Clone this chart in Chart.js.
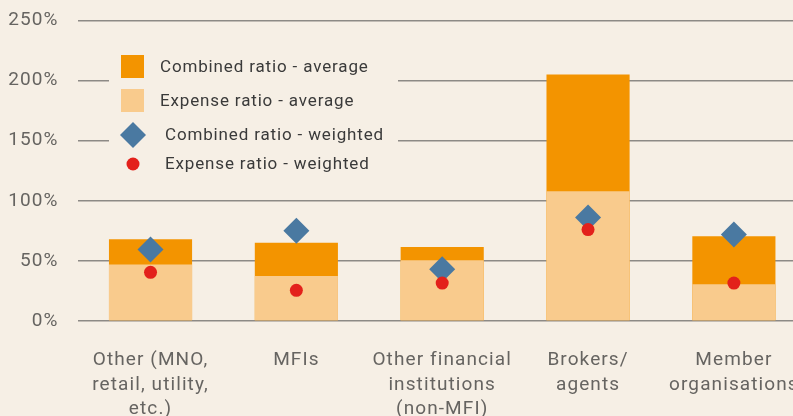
<!DOCTYPE html>
<html>
<head>
<meta charset="utf-8">
<script src="https://cdn.jsdelivr.net/npm/chart.js@4.4.0/dist/chart.umd.min.js"></script>
<style>
html, body { margin: 0; padding: 0; background: #f6efe5; overflow: hidden; }
#wrap { width: 827px; height: 426px; margin-top: -10px; }
</style>
</head>
<body>
<div id="wrap"><canvas id="myChart" width="827" height="426"></canvas></div>
<script>
// values (percent)
const categories = [
    ["Other (MNO,", "retail, utility,", "etc.)"],
    "MFIs",
    ["Other financial", "institutions", "(non-MFI)"],
    ["Brokers/", "agents"],
    ["Member", "organisations"]
]
const combinedAverage = [68, 65, 61.5, 205, 70.5]
const expenseAverage = [47, 37.5, 50.5, 108, 30.5]
const combinedWeighted = [59.5, 75, 43, 86, 72]
const expenseWeighted = [40.5, 25.5, 31.5, 76, 31.5]
const yMin = 0
const yMax = 250
const yStep = 50

const BG = '#f6efe5'
const FONT = 'Roboto'
const SPACING = '1.1px'
// canvas is shifted up by 10px in the page, legend coords are page coords
const SHIFT = 10

// letter spacing to get closer to the wide DIN look of the original
const spacingPlugin = {
    id: 'spacing',
    beforeUpdate(chart) { chart.ctx.letterSpacing = SPACING },
    beforeDraw(chart) { chart.ctx.letterSpacing = SPACING }
}

// legend sits inside the plot, over the gridlines
const legendPlugin = {
    id: 'insideLegend',
    beforeDatasetsDraw(chart)
    {
        const ctx = chart.ctx
        const ds = chart.data.datasets
        ctx.save()
        ctx.translate(0, SHIFT)
        ctx.fillStyle = BG
        ctx.fillRect(109, 40, 289, 145)

        ctx.font = '17px ' + FONT
        ctx.letterSpacing = '0.85px'
        ctx.textBaseline = 'middle'
        ctx.textAlign = 'left'

        // combined average
        ctx.fillStyle = ds[1].backgroundColor
        ctx.fillRect(121, 55, 23, 23)
        ctx.fillStyle = '#3a3a3a'
        ctx.fillText(ds[1].label, 160, 68)

        // expense average
        ctx.fillStyle = ds[2].backgroundColor
        ctx.fillRect(121, 89, 23, 23)
        ctx.fillStyle = '#3a3a3a'
        ctx.fillText(ds[2].label, 160, 102)

        // combined weighted
        ctx.fillStyle = ds[0].backgroundColor
        ctx.beginPath()
        ctx.moveTo(133, 122)
        ctx.lineTo(146, 135)
        ctx.lineTo(133, 148)
        ctx.lineTo(120, 135)
        ctx.closePath()
        ctx.fill()
        ctx.fillStyle = '#3a3a3a'
        ctx.fillText(ds[0].label, 165, 136)

        // expense weighted
        ctx.fillStyle = ds[3].backgroundColor
        ctx.beginPath()
        ctx.arc(133, 164, 6.5, 0, Math.PI * 2)
        ctx.fill()
        ctx.fillStyle = '#3a3a3a'
        ctx.fillText(ds[3].label, 165, 165)
        ctx.restore()
    }
}

const config = {
    data: {
        labels: categories,
        datasets: [
            {
                type: 'line',
                label: 'Combined ratio - weighted',
                data: combinedWeighted,
                showLine: false,
                pointStyle: 'rectRot',
                pointRadius: 13,
                pointBorderWidth: 0,
                backgroundColor: '#4a79a1',
                borderColor: '#4a79a1',
                order: 1
            },
            {
                type: 'bar',
                label: 'Combined ratio - average',
                data: combinedAverage,
                backgroundColor: '#f39400',
                grouped: false,
                barPercentage: 0.57,
                categoryPercentage: 1,
                order: 4
            },
            {
                type: 'bar',
                label: 'Expense ratio - average',
                data: expenseAverage,
                backgroundColor: '#f9cb8d',
                grouped: false,
                barPercentage: 0.57,
                categoryPercentage: 1,
                order: 3
            },
            {
                type: 'line',
                label: 'Expense ratio - weighted',
                data: expenseWeighted,
                showLine: false,
                pointStyle: 'circle',
                pointRadius: 6.5,
                pointBorderWidth: 0,
                backgroundColor: '#e3211b',
                borderColor: '#e3211b',
                order: 0
            }
        ]
    },
    options: {
        responsive: false,
        animation: false,
        layout: { padding: { top: 9, left: 0, right: 0, bottom: 0 } },
        plugins: {
            legend: { display: false },
            tooltip: { enabled: false }
        },
        scales: {
            x: {
                grid: { display: false, drawTicks: false },
                border: { display: false },
                ticks: {
                    color: '#666461',
                    font: { family: FONT, size: 19, lineHeight: 1.29 },
                    padding: 27,
                    maxRotation: 0,
                    autoSkip: false
                },
                afterFit: (scale) => { scale.height = 95 }
            },
            y: {
                min: yMin,
                max: yMax,
                grid: { color: '#8d8a86', lineWidth: 1.6, drawTicks: false },
                border: { display: false },
                ticks: {
                    stepSize: yStep,
                    color: '#666461',
                    font: { family: FONT, size: 19 },
                    padding: 19,
                    callback: (v) => v + '%'
                },
                afterFit: (scale) => { scale.width = 77.6 }
            }
        }
    },
    plugins: [spacingPlugin, legendPlugin]
}

new Chart(document.getElementById('myChart'), config)
</script>
</body>
</html>
